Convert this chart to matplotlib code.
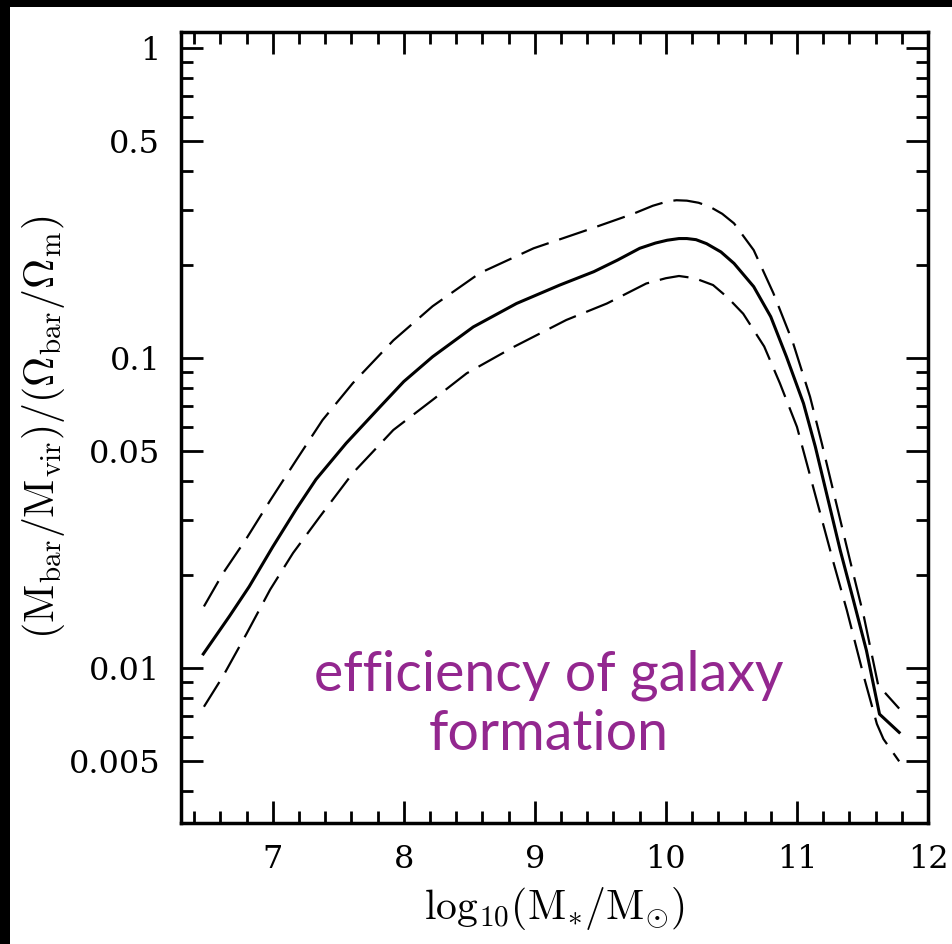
import matplotlib
matplotlib.use("Agg")
import matplotlib.pyplot as plt
from matplotlib.ticker import FixedLocator, NullFormatter
from matplotlib.patches import Rectangle

# ---- data ----
x_mid = [6.47, 6.67, 6.82, 7.00, 7.18, 7.33, 7.56, 7.82, 8.00, 8.22, 8.53, 8.86,
         9.19, 9.45, 9.63, 9.80, 9.92, 10.01, 10.10, 10.16, 10.23, 10.31, 10.42,
         10.52, 10.67, 10.80, 10.92, 11.05, 11.14, 11.33, 11.43, 11.53, 11.63, 11.78]
y_mid = [0.0111, 0.0147, 0.0183, 0.0246, 0.0326, 0.0406, 0.0531, 0.0697, 0.084,
         0.101, 0.126, 0.150, 0.172, 0.190, 0.207, 0.226, 0.235, 0.240, 0.243,
         0.243, 0.241, 0.234, 0.220, 0.202, 0.170, 0.136, 0.101, 0.0714, 0.0518,
         0.0240, 0.0166, 0.0114, 0.0071, 0.0062]

x_up = [6.475, 6.62, 6.80, 6.98, 7.18, 7.38, 7.61, 7.92, 8.22, 8.58, 8.99, 9.40,
        9.75, 9.90, 10.01, 10.08, 10.16, 10.25, 10.34, 10.43, 10.52, 10.67, 10.82,
        10.97, 11.10, 11.19, 11.41, 11.51, 11.62, 11.78]
y_up = [0.0158, 0.0202, 0.0262, 0.0347, 0.0469, 0.0631, 0.0829, 0.114, 0.147,
        0.188, 0.226, 0.259, 0.292, 0.310, 0.320, 0.323, 0.322, 0.317, 0.307,
        0.292, 0.272, 0.223, 0.162, 0.112, 0.075, 0.053, 0.0218, 0.0147, 0.0088,
        0.0074]

x_lo = [6.475, 6.62, 6.80, 6.98, 7.155, 7.36, 7.61, 7.92, 8.22, 8.48, 8.84, 9.24,
        9.55, 9.85, 10.00, 10.10, 10.22, 10.36, 10.47, 10.59, 10.75, 10.87, 11.00,
        11.28, 11.38, 11.51, 11.61, 11.66, 11.78]
y_lo = [0.0075, 0.0094, 0.0129, 0.0179, 0.0235, 0.0308, 0.0425, 0.0586, 0.0733,
        0.0893, 0.1087, 0.1327, 0.150, 0.174, 0.181, 0.184, 0.181, 0.172, 0.157,
        0.139, 0.109, 0.0829, 0.060, 0.0218, 0.0154, 0.0094, 0.0066, 0.0059, 0.0050]

x_major = [7, 8, 9, 10, 11, 12]
x_minor = [6.4, 6.6, 6.8, 7.2, 7.4, 7.6, 7.8, 8.2, 8.4, 8.6, 8.8, 9.2, 9.4, 9.6,
           9.8, 10.2, 10.4, 10.6, 10.8, 11.2, 11.4, 11.6, 11.8]
y_major = [0.005, 0.01, 0.05, 0.1, 0.5, 1]
y_major_labels = ["0.005", "0.01", "0.05", "0.1", "0.5", "1"]
y_minor = [0.004, 0.006, 0.007, 0.008, 0.009, 0.02, 0.03, 0.04, 0.06, 0.07,
           0.08, 0.09, 0.2, 0.3, 0.4, 0.6, 0.7, 0.8, 0.9]

annotation = "efficiency of galaxy\nformation"

# ---- figure ----
plt.rcParams['mathtext.fontset'] = 'cm'
plt.rcParams['lines.scale_dashes'] = False

fig = plt.figure(figsize=(9.52, 9.44), dpi=100)
ax = fig.add_axes([181/952, 1 - 823/944, (928-181)/952, (823-32)/944])

ax.plot(x_mid, y_mid, color='black', lw=2.2, solid_joinstyle='round')
ax.plot(x_up, y_up, color='black', lw=1.6, dashes=(21, 8))
ax.plot(x_lo, y_lo, color='black', lw=1.6, dashes=(21, 8))

ax.set_yscale('log')
ax.set_xlim(6.3, 12.0)
ax.set_ylim(10**-2.5, 10**0.052)

ax.xaxis.set_major_locator(FixedLocator(x_major))
ax.xaxis.set_minor_locator(FixedLocator(x_minor))
ax.set_xticklabels([str(v) for v in x_major])
ax.yaxis.set_major_locator(FixedLocator(y_major))
ax.yaxis.set_minor_locator(FixedLocator(y_minor))
ax.set_yticklabels(y_major_labels)
ax.yaxis.set_minor_formatter(NullFormatter())

ax.tick_params(which='both', direction='in', top=True, right=True,
               width=2.0, colors='black')
ax.tick_params(which='major', length=16, labelsize=23, pad=15)
ax.tick_params(which='minor', length=8.5)
for lab in ax.get_xticklabels() + ax.get_yticklabels():
    lab.set_family('DejaVu Serif')

for s in ax.spines.values():
    s.set_linewidth(2.5)

ax.set_xlabel(r'$\mathrm{log}_{10}(\mathrm{M}_{*}/\mathrm{M}_{\odot})$', fontsize=30)
ax.xaxis.set_label_coords(0.5, -0.078)
ax.set_ylabel(r'$(\mathrm{M_{bar}}/\mathrm{M_{vir}})/(\Omega_{\mathrm{bar}}/\Omega_{\mathrm{m}})$',
              fontsize=30)
ax.yaxis.set_label_coords(-0.152, 0.5)

ax.text((549-181)/747, (823-705)/791, annotation, transform=ax.transAxes,
        ha='center', va='center', fontsize=40, family='Lato', color='#93278f',
        linespacing=1.2)

# black strips at top and left edges of the reference image
fig.patches.append(Rectangle((0, 1 - 7/944), 1, 7/944, transform=fig.transFigure,
                             facecolor='black', edgecolor='none', zorder=10))
fig.patches.append(Rectangle((0, 0), 10/952, 1, transform=fig.transFigure,
                             facecolor='black', edgecolor='none', zorder=10))

fig.savefig('out.png', dpi=100)
